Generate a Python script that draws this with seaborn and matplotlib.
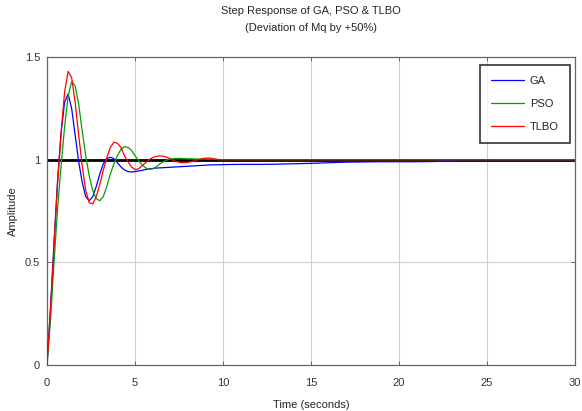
import numpy as np
import pandas as pd
import seaborn as sns
import matplotlib
matplotlib.use("Agg")
import matplotlib.pyplot as plt
from matplotlib import font_manager

# ---- data ----
time = [0.0, 0.2, 0.4, 0.6, 0.8, 1.0, 1.2, 1.4, 1.6, 1.8,
        2.0, 2.2, 2.4, 2.6, 2.8, 3.0, 3.2, 3.4, 3.6, 3.8,
        4.0, 4.2, 4.4, 4.6, 4.8, 5.0, 5.2, 5.4, 5.6, 5.8,
        6.0, 6.2, 6.4, 6.6, 6.8, 7.0, 7.2, 7.4, 7.6, 7.8,
        8.0, 8.2, 8.4, 8.6, 8.8, 9.0, 9.2, 9.4, 9.6, 9.8,
        10.0, 11, 12, 13, 14, 15, 16, 17, 18, 19,
        20, 21, 22, 23, 24, 25, 26, 27, 28, 29, 30]

ga = [0.0, 0.28, 0.60, 0.90, 1.13, 1.28, 1.32, 1.25, 1.12, 0.99,
      0.89, 0.82, 0.80, 0.82, 0.87, 0.93, 0.98, 1.005, 1.012, 1.005,
      0.985, 0.965, 0.950, 0.942, 0.940, 0.942, 0.945, 0.948, 0.952, 0.955,
      0.957, 0.959, 0.960, 0.961, 0.962, 0.963, 0.964, 0.965, 0.966, 0.967,
      0.968, 0.969, 0.970, 0.971, 0.972, 0.973, 0.974, 0.975, 0.975, 0.975,
      0.976, 0.977, 0.977, 0.978, 0.980, 0.982, 0.985, 0.988, 0.989, 0.990,
      0.990, 0.990, 0.991, 0.998, 1.0, 1.0, 1.0, 1.0, 1.0, 1.0, 1.0]

pso = [0.0, 0.22, 0.50, 0.76, 0.97, 1.16, 1.31, 1.38, 1.36, 1.27,
       1.14, 1.02, 0.92, 0.85, 0.81, 0.80, 0.82, 0.87, 0.93, 0.98,
       1.02, 1.05, 1.063, 1.06, 1.045, 1.02, 0.995, 0.975, 0.96, 0.953,
       0.955, 0.965, 0.978, 0.99, 0.998, 1.003, 1.005, 1.006, 1.006, 1.005,
       1.004, 1.004, 1.003, 1.003, 1.003, 1.003, 1.002, 1.002, 1.001, 1.0,
       1.0, 1.0, 1.0, 1.0, 1.0, 1.0, 1.0, 1.0, 1.0, 1.0,
       1.0, 1.0, 1.0, 1.0, 1.0, 1.0, 1.0, 1.0, 1.0, 1.0, 1.0]

tlbo = [0.0, 0.27, 0.58, 0.88, 1.13, 1.33, 1.43, 1.40, 1.28, 1.12,
        0.97, 0.85, 0.79, 0.785, 0.82, 0.88, 0.95, 1.01, 1.06, 1.085,
        1.08, 1.06, 1.02, 0.99, 0.965, 0.952, 0.955, 0.97, 0.985, 1.0,
        1.01, 1.016, 1.018, 1.017, 1.012, 1.005, 0.995, 0.99, 0.986, 0.985,
        0.987, 0.99, 0.995, 1.0, 1.004, 1.007, 1.008, 1.006, 1.002, 1.0,
        1.0, 1.0, 1.0, 1.0, 1.0, 1.0, 1.0, 1.0, 1.0, 1.0,
        1.0, 1.0, 1.0, 1.0, 1.0, 1.0, 1.0, 1.0, 1.0, 1.0, 1.0]

series_names = ["GA", "PSO", "TLBO"]
series_colors = ["#0000ff", "#00a000", "#ff0000"]
x_ticks = [0, 5, 10, 15, 20, 25, 30]
y_ticks = [0, 0.5, 1, 1.5]
y_ticklabels = ["0", "0.5", "1", "1.5"]

df = pd.DataFrame({
    "Time": time * 3,
    "Amplitude": ga + pso + tlbo,
    "Method": (["GA"] * len(time)) + (["PSO"] * len(time)) + (["TLBO"] * len(time)),
})

# ---- style ----
sns.set_theme(style="white")
avail = {f.name for f in font_manager.fontManager.ttflist}
fams = [f for f in ["Liberation Sans Narrow", "Liberation Sans", "DejaVu Sans"] if f in avail]
plt.rcParams["font.family"] = fams

fig = plt.figure(figsize=(5.82, 4.11), dpi=100)
ax = fig.add_axes([47 / 582, 1 - 365 / 411, 528 / 582, 308 / 411])

ax.axhline(1.0, color="black", lw=2.0, zorder=1)
sns.lineplot(data=df, x="Time", y="Amplitude", hue="Method",
             hue_order=series_names, palette=series_colors,
             linewidth=0.9, ax=ax, zorder=3, legend=True)

ax.set_xlim(0, 30)
ax.set_ylim(0, 1.5)
ax.set_xticks(x_ticks)
ax.set_xticklabels([str(v) for v in x_ticks])
ax.set_yticks(y_ticks)
ax.set_yticklabels(y_ticklabels)
ax.grid(True, color="#cfcfcf", lw=0.8, ls="-")
ax.set_axisbelow(True)
for s in ax.spines.values():
    s.set_color("#666666")
    s.set_linewidth(0.9)
ax.tick_params(axis="both", direction="in", length=3, width=0.7, color="#666666",
               labelsize=8, labelcolor="#333333", top=True, right=True,
               bottom=True, left=True)
ax.tick_params(axis="x", pad=9)
ax.tick_params(axis="y", pad=5)

ax.set_xlabel("Time (seconds)", fontsize=8, labelpad=9)
ax.set_ylabel("Amplitude", fontsize=8, labelpad=5)
ax.set_title("Step Response of GA, PSO & TLBO\n(Deviation of Mq by +50%)",
             fontsize=8, pad=19, linespacing=1.8)

handles, labels = ax.get_legend_handles_labels()
leg = ax.legend(handles, labels, loc="upper right", bbox_to_anchor=(0.99, 0.975),
                borderaxespad=0, fontsize=8, frameon=True, fancybox=False,
                handlelength=3.0, handletextpad=0.5, labelspacing=1.18,
                borderpad=1.0, title=None)
leg.get_frame().set_edgecolor("black")
leg.get_frame().set_linewidth(1.2)
for h in leg.get_lines():
    h.set_linewidth(0.9)

fig.savefig("out.png", dpi=100)
